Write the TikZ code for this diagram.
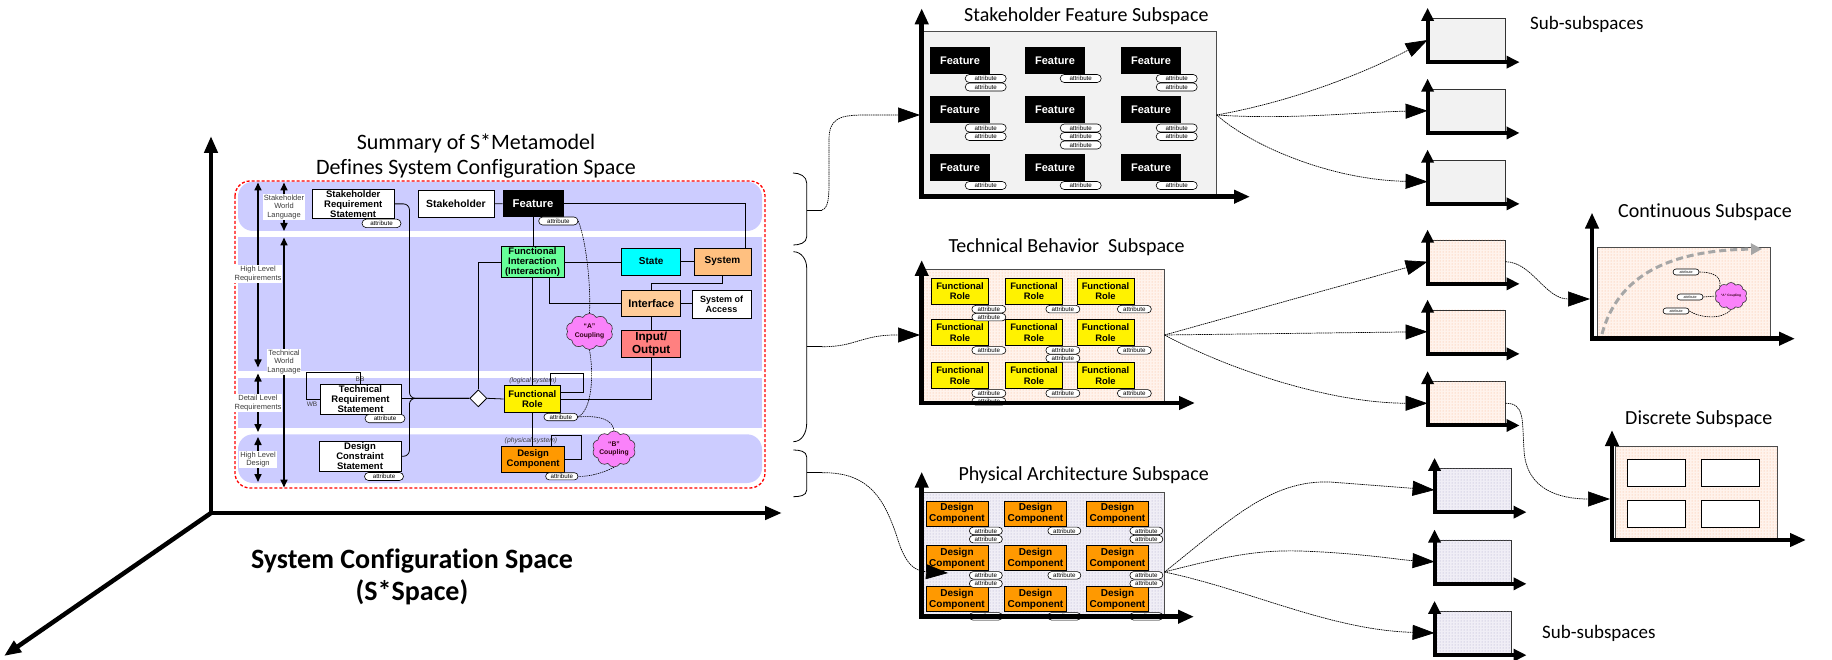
\documentclass[tikz,border=0pt]{standalone}
\usepackage{fontspec}
\setmainfont{Carlito}[Ligatures=NoCommon]
\newfontfamily\arialf{Liberation Sans}
\usetikzlibrary{arrows.meta,shapes.misc,shapes.symbols,shapes.geometric,patterns,calc}
\definecolor{bandc}{RGB}{204,204,255}
\definecolor{fgreen}{RGB}{102,255,153}
\definecolor{stcyan}{RGB}{0,255,255}
\definecolor{peachc}{RGB}{255,204,153}
\definecolor{sysc}{RGB}{255,192,128}
\definecolor{ioc}{RGB}{255,128,128}
\definecolor{dcc}{RGB}{255,153,0}
\definecolor{cloudc}{RGB}{250,130,250}
\definecolor{lgray}{RGB}{242,242,242}
\definecolor{techf}{RGB}{255,243,236}
\definecolor{techd}{RGB}{248,180,140}
\definecolor{physf}{RGB}{240,238,246}
\definecolor{physd}{RGB}{170,165,200}
\definecolor{lblgray}{RGB}{60,60,60}
\begin{document}
\begin{tikzpicture}[x=1pt,y=-1pt,
  mline/.style={line width=0.8pt},
  mm/.style={draw, line width=0.8pt, align=center, inner sep=0pt, font=\arialf\bfseries\fontsize{9.5}{10}\selectfont},
  pill/.style={draw, line width=0.6pt, rounded rectangle, fill=white, inner sep=0pt, minimum height=8pt, font=\arialf\fontsize{6.2}{6.5}\selectfont},
  cpl/.style={line width=0.6pt, dash pattern=on 1.5pt off 0.8pt},
  lvlarr/.style={line width=1.6pt, {Triangle[length=8pt,width=7pt]}-{Triangle[length=8pt,width=7pt]}},
  lvl/.style={fill=white, inner sep=0.8pt, align=center, text=lblgray, font=\arialf\fontsize{7.5}{8.7}\selectfont},
  conn/.style={line width=0.7pt, dash pattern=on 1.5pt off 0.7pt, -{Triangle[length=22pt,width=15pt]}},
  axb/.style={line width=4.5pt, {Triangle[length=16pt,width=13pt]}-{Triangle[length=16pt,width=13pt]}},
  subax/.style={line width=4pt, {Triangle[length=13pt,width=12pt]}-{Triangle[length=13pt,width=12pt]}},
  mainax/.style={line width=4.5pt, {Triangle[length=17pt,width=13pt]}-{Triangle[length=17pt,width=13pt]}},
  mainax1/.style={line width=4.5pt, -{Triangle[length=17pt,width=13pt]}},
  featbox/.style={fill=black, text=white, inner sep=0pt, minimum width=60pt, minimum height=27pt, font=\arialf\bfseries\fontsize{11}{12}\selectfont},
  frbox/.style={draw, line width=0.7pt, fill=yellow, inner sep=0pt, align=center, minimum width=57pt, minimum height=26pt, font=\arialf\bfseries\fontsize{9.4}{10.5}\selectfont},
  dcbox/.style={draw, line width=0.7pt, fill=dcc, inner sep=0pt, align=center, minimum width=62pt, minimum height=25pt, font=\arialf\bfseries\fontsize{10}{11}\selectfont},
  techpanel/.style={fill=techf, postaction={pattern=dots, pattern color=techd}},
  physpanel/.style={fill=physf, postaction={pattern=dots, pattern color=physd}},
  subbox/.style={draw=black!80, line width=0.8pt, inner sep=0pt, minimum width=77pt, minimum height=43.5pt},
  ttl/.style={font=\fontsize{20}{24}\selectfont, inner sep=0pt, anchor=base west},
  cloudn/.style={cloud, cloud puffs=10, cloud puff arc=120, cloud ignores aspect, draw=black!80, line width=0.6pt, fill=cloudc, inner sep=0pt, align=center, text=black!75!purple}
]
\useasboundingbox (0,0) rectangle (1832,660);

%% ---------------- main axes and titles
\draw[mainax] (211,136) -- (211,513) -- (782,513);
\draw[mainax1] (211,513) -- (4,656);
\node[font=\fontsize{22}{26}\selectfont, inner sep=0pt, anchor=base] (tsum) at (476,150) {Summary of S*Metamodel};
\node[font=\fontsize{22}{26}\selectfont, inner sep=0pt, anchor=base] (tdef) at (476,175) {Defines System Configuration Space};
\node[font=\bfseries\fontsize{28}{32}\selectfont, inner sep=0pt, anchor=base] (tscs) at (412,568) {System Configuration Space};
\node[font=\bfseries\fontsize{28}{32}\selectfont, inner sep=0pt, anchor=base] (tss) at (412,600) {(S*Space)};

%% ---------------- metamodel bands
\fill[bandc, rounded corners=15pt] (238,181.7) rectangle (762,231);
\fill[bandc] (238,237) rectangle (762,370.7);
\fill[bandc] (238,378) rectangle (762,428.3);
\fill[bandc, rounded corners=15pt] (238,434.3) rectangle (762,483);
\draw[red, line width=1.3pt, dash pattern=on 3pt off 2pt, rounded corners=15pt] (235,181) rectangle (765,488);

%% level arrows and labels
\draw[lvlarr] (258,182.5) -- (258,367.5);
\draw[lvlarr] (258,373.5) -- (258,432);
\draw[lvlarr] (258,437) -- (258,482);
\draw[lvlarr] (284,182.5) -- (284,231);
\draw[lvlarr] (284,237.5) -- (284,487.5);
\node[lvl] (lv1) at (258,274) {High Level\\Requirements};
\node[lvl] (lv2) at (258,403) {Detail Level\\Requirements};
\node[lvl] (lv3) at (258,459.5) {High Level\\Design};
\node[lvl] (lv4) at (284,207) {Stakeholder\\World\\Language};
\node[lvl] (lv5) at (284,362) {Technical\\World\\Language};

%% metamodel nodes
\node[mm, fill=white, minimum width=81.7pt, minimum height=29.7pt] (srs) at (353.2,203.9) {Stakeholder\\Requirement\\Statement};
\node[mm, fill=white, minimum width=76pt, minimum height=26.3pt, font=\arialf\bfseries\fontsize{10.4}{11}\selectfont] (stk) at (456,203.9) {Stakeholder};
\node[mm, fill=black, text=white, minimum width=60pt, minimum height=25.6pt, font=\arialf\bfseries\fontsize{11.3}{12}\selectfont] (feat) at (533,203.5) {Feature};
\node[mm, fill=fgreen, minimum width=63pt, minimum height=30.6pt] (fi) at (532.5,262) {Functional\\Interaction\\(Interaction)};
\node[mm, fill=stcyan, minimum width=59pt, minimum height=27pt, font=\arialf\bfseries\fontsize{10}{11}\selectfont] (state) at (651.2,261.5) {State};
\node[mm, fill=sysc, minimum width=57pt, minimum height=27pt, font=\arialf\bfseries\fontsize{10}{11}\selectfont] (sys) at (722.5,261.5) {System};
\node[mm, fill=peachc, minimum width=59pt, minimum height=26.7pt, font=\arialf\bfseries\fontsize{11}{12}\selectfont] (intf) at (651.2,303.3) {Interface};
\node[mm, fill=white, minimum width=59pt, minimum height=28pt, font=\arialf\bfseries\fontsize{9}{10}\selectfont] (soa) at (721.5,304) {System of\\Access};
\node[mm, fill=ioc, minimum width=59pt, minimum height=26.6pt, font=\arialf\bfseries\fontsize{11.7}{13}\selectfont] (io) at (651.2,344) {Input/\\Output};
\node[mm, fill=yellow, minimum width=56.7pt, minimum height=26.6pt] (fr) at (532.3,399) {Functional\\Role};
\node[mm, fill=dcc, minimum width=63.4pt, minimum height=25.2pt] (dc) at (533.1,459.4) {Design\\Component};
\node[mm, fill=white, minimum width=81pt, minimum height=30pt] (trs) at (360.5,399.3) {Technical\\Requirement\\Statement};
\node[mm, fill=white, minimum width=82pt, minimum height=29.5pt] (dcs) at (360,456.3) {Design\\Constraint\\Statement};
\node[diamond, draw, line width=0.8pt, fill=white, minimum width=17pt, minimum height=17pt, inner sep=0pt] (diam) at (478.3,398.3) {};
\node[pill, minimum width=39pt, minimum height=8.5pt] (srsP) at (381.5,223.4) {attribute};
\node[pill, minimum width=39.3pt] (featP) at (558.3,221) {attribute};
\node[pill, minimum width=40pt, minimum height=8.4pt] (trsP) at (385,418.5) {attribute};
\node[pill, minimum width=33.7pt, minimum height=7.4pt] (frP) at (560.8,417) {attribute};
\node[pill, minimum width=32.4pt, minimum height=7.2pt] (dcP) at (561.8,476.3) {attribute};
\node[pill, minimum width=39pt] (dcsP) at (384,476.5) {attribute};
\node[cloudn, minimum width=47pt, minimum height=36pt, font=\arialf\bfseries\fontsize{6.8}{8.5}\selectfont] (cA) at (589.5,331.5) {“A”\\Coupling};
\node[cloudn, minimum width=43pt, minimum height=36pt, font=\arialf\bfseries\fontsize{6.8}{8.5}\selectfont] (cB) at (614,449) {“B”\\Coupling};
\node[inner sep=0pt, text=lblgray, font=\arialf\itshape\fontsize{6.8}{7}\selectfont] (lsys) at (533,381) {(logical system)};
\node[inner sep=0pt, text=lblgray, font=\arialf\itshape\fontsize{6.8}{7}\selectfont] (psys) at (531,441) {(physical system)};
\node[inner sep=0pt, text=lblgray, font=\arialf\fontsize{6.5}{7}\selectfont] (bb) at (360,379.5) {BB};
\node[inner sep=0pt, text=lblgray, font=\arialf\fontsize{6.5}{7}\selectfont] (wb) at (312,404.5) {WB};

%% metamodel connectors
\draw[mline] (stk) -- (feat);
\draw[mline] (feat.east) -| ($(sys.north)+(22.5,0)$);
\draw[mline] (feat.south) -- (feat.south |- fi.north);
\draw[mline] (fi.south) -- (fi.south |- fr.north);
\draw[mline] (fr.south) -- (fr.south |- dc.north);
\draw[mline] (fi.east) -- (fi.east -| state.west);
\draw[mline] (state.east) -- (state.east -| sys.west);
\draw[mline] (fi.west) -| (diam.north);
\draw[mline] ($(fi.south east)+(-15,0)$) |- (intf.west);
\draw[mline] (intf.east) -- (intf.east -| soa.west);
\draw[mline] (intf.north) |- ($(sys.south)+(0,7.7)$) -- (sys.south);
\draw[mline] (intf.south) -- (io.north);
\draw[mline] (io.south) |- (fr.east);
\draw[mline] (diam.east) -- (fr.west);
\draw[mline] (diam.west -| trs.east) -- (diam.west);
\draw[mline, rounded corners=6pt] (srs.east) -- ++(15,0) |- (diam.west);
\draw[mline, rounded corners=6pt] (dcs.east) -- ++(8,0) |- (diam.west);
\draw[mline] (trs.north) -- ++(0,-11.6) -| ([xshift=-13.3pt]trs.west) -- (trs.west);
\draw[mline] ($(fr.north east)+(-10.7,0)$) -- ++(0,-11.7) -| ($(fr.north east)+(22,6.6)$) -- ($(fr.north east)+(0,6.6)$);
\draw[mline] ($(dc.north east)+(-13.4,0)$) -- ++(0,-11.4) -| ($(dc.north east)+(16.5,12.7)$) -- ($(dc.north east)+(0,12.7)$);
\draw[cpl] (featP.east) .. controls (586,240) and (591,285) .. (cA.north);
\draw[cpl] (cA.south) .. controls (594,375) and (592,410) .. (frP.east);
\draw[cpl] (frP.east) .. controls (600,415) and (613,420) .. (cB.north);
\draw[cpl] (cB.south) .. controls (605,472) and (590,477) .. (dcP.east);

%% ---------------- braces
\draw[line width=0.8pt] (793,173) to[out=0,in=90] (806.7,183) -- (806.7,236.7) to[out=-90,in=0] (793.3,245);
\draw[line width=0.8pt] (806.7,210) -- (822,210);
\draw[line width=0.8pt] (793.3,251.7) to[out=0,in=90] (806.7,268) -- (806.7,423.3) to[out=-90,in=0] (793.3,441.7);
\draw[line width=0.8pt] (806.7,346.7) -- (822,346.7);
\draw[line width=0.8pt] (793.3,450) to[out=0,in=90] (806.7,457) -- (806.7,490) to[out=-90,in=0] (793.3,496.7);
\draw[line width=0.8pt] (806.7,472.7) -- (822,472.7);
\coordinate (b1) at (822,210);
\coordinate (b2) at (822,346.7);
\coordinate (b3) at (822,472.7);

%% ---------------- stakeholder feature subspace
\draw[fill=lgray, draw=black!70, line width=0.8pt] (921.7,31.7) rectangle (1216.7,196.7);
\foreach \rr/\yy in {1/60.5,2/110,3/167.5}{
  \foreach \cc/\xx in {1/960,2/1055,3/1151}{
    \node[featbox] (sf\rr\cc) at (\xx,\yy) {Feature};
  }
}
\foreach \rr/\cc/\n in {1/1/2,1/2/1,1/3/2,2/1/2,2/2/3,2/3/2,3/1/1,3/2/1,3/3/1}{
  \foreach \k in {1,...,\n}{
    \node[pill, minimum width=41pt] (sfp\rr\cc\k) at ($(sf\rr\cc.south east)+(-4.5,4.3+8.5*\k-8.5)$) {attribute};
  }
}
\draw[axb] (921.7,8.3) -- (921.7,196.7) -- (1250,196.7);
\node[ttl] (t1) at (964,21.7) {Stakeholder Feature Subspace};

%% ---------------- technical behavior subspace
\path[techpanel] (921.7,269) rectangle (1164.5,403);
\draw[draw=black!70, line width=0.8pt] (921.7,269) rectangle (1164.5,403);
\foreach \rr/\yy in {1/291.3,2/332.5,3/375.5}{
  \foreach \cc/\xx in {1/960,2/1034,3/1105.5}{
    \node[frbox] (tf\rr\cc) at (\xx,\yy) {Functional\\Role};
  }
}
\foreach \rr/\cc/\n in {1/1/2,1/2/1,1/3/1,2/1/1,2/2/2,2/3/1,3/1/2,3/2/1,3/3/1}{
  \foreach \k in {1,...,\n}{
    \node[pill, minimum width=34pt, minimum height=7.5pt] (tfp\rr\cc\k) at ($(tf\rr\cc.south east)+(0,4.5+8*\k-8)$) {attribute};
  }
}
\draw[axb] (921.7,260) -- (921.7,403) -- (1195,403);
\node[ttl] (t2) at (948.3,253) {Technical Behavior\ \ Subspace};

%% ---------------- physical architecture subspace
\path[physpanel] (921.7,492.7) rectangle (1164.5,616.7);
\draw[draw=black!70, line width=0.8pt] (921.7,492.7) rectangle (1164.5,616.7);
\foreach \rr/\yy in {1/513.5,2/558,3/599}{
  \foreach \cc/\xx in {1/957,2/1035.5,3/1117.5}{
    \node[dcbox] (pd\rr\cc) at (\xx,\yy) {Design\\Component};
  }
}
\foreach \rr/\cc/\n in {1/1/2,1/2/1,1/3/2,2/1/2,2/2/1,2/3/2,3/1/1,3/2/1,3/3/1}{
  \foreach \k in {1,...,\n}{
    \node[pill, minimum width=33pt, minimum height=7.5pt] (pdp\rr\cc\k) at ($(pd\rr\cc.south east)+(-2.5,4.5+8.3*\k-8.3)$) {attribute};
  }
}
\draw[axb] (921.7,471.7) -- (921.7,616.7) -- (1194,616.7);
\node[ttl] (t3) at (958.3,480) {Physical Architecture Subspace};

%% ---------------- brace connectors
\coordinate (sft) at (920,115);
\coordinate (tbt) at (920,335);
\coordinate (pat) at (948,573);
\draw[conn] (b1) .. controls (829,208) and (829,195) .. (829,180) -- (829,140) .. controls (829,118) and (840,115) .. (865,115) -- (sft);
\draw[conn] (b2) .. controls (855,347) and (862,335) .. (895,335) -- (tbt);
\draw[conn] (b3) .. controls (870,472) and (885,500) .. (898,540) .. controls (906,565) and (915,571) .. (pat);

%% ---------------- sub-subspaces
\node[subbox, fill=lgray] (ss1) at (1466.5,40) {};
\node[subbox, fill=lgray] (ss2) at (1466.5,110.8) {};
\node[subbox, fill=lgray] (ss3) at (1466.5,181.7) {};
\node[subbox, techpanel] (tb1) at (1466.5,261.7) {};
\node[subbox, techpanel] (tb2) at (1466.5,331.7) {};
\node[subbox, techpanel] (tb3) at (1466.5,403.3) {};
\node[subbox, physpanel, minimum width=76.7pt] (pb1) at (1473.3,490) {};
\node[subbox, physpanel, minimum width=76.7pt] (pb2) at (1473.3,561.7) {};
\node[subbox, physpanel, minimum width=76.7pt] (pb3) at (1473.3,633) {};
\foreach \b in {ss1,ss2,ss3,tb1,tb2,tb3,pb1,pb2,pb3}{
  \draw[subax] ($(\b.north west)+(0,-10)$) -- (\b.south west) -- ++(92,0);
}
\node[ttl, font=\fontsize{19}{22}\selectfont] (t4) at (1530,30) {Sub-subspaces};
\node[ttl, font=\fontsize{19}{22}\selectfont] (t5) at (1542,638) {Sub-subspaces};

\coordinate (sfo) at (1216.7,115);
\coordinate (tbo) at (1164.5,335);
\coordinate (pao) at (1164.5,572);
\draw[conn] (sfo) .. controls (1300,100) and (1370,70) .. (ss1.west);
\draw[conn] (sfo) .. controls (1290,120) and (1360,112) .. (ss2.west);
\draw[conn] (sfo) .. controls (1250,145) and (1330,180) .. (ss3.west);
\draw[conn] (tbo) -- (tb1.west);
\draw[conn] (tbo) -- (tb2.west);
\draw[conn] (tbo) .. controls (1230,370) and (1330,403) .. (tb3.west);
\draw[conn] (pao) .. controls (1230,520) and (1270,480) .. (1330,482) -- (pb1.west);
\draw[conn] (pao) .. controls (1230,555) and (1260,550) .. (1300,551) .. controls (1360,553) and (1400,560) .. (pb2.west);
\draw[conn] (pao) .. controls (1250,590) and (1330,630) .. (pb3.west);

%% ---------------- continuous subspace
\path[techpanel] (1597,247.6) rectangle (1770,338.7);
\draw[draw=black!70, line width=0.8pt] (1597,247.6) rectangle (1770,338.7);
\draw[gray!70, line width=3pt, dash pattern=on 7pt off 4pt, -{Triangle[length=11pt,width=11pt]}] (1602,334) .. controls (1618,275) and (1670,250) .. (1762,249);
\node[pill, minimum width=26pt, minimum height=6pt, font=\arialf\fontsize{3.6}{4}\selectfont] (cp1) at (1686,272) {attribute};
\node[pill, minimum width=26pt, minimum height=6pt, font=\arialf\fontsize{3.6}{4}\selectfont] (cp2) at (1690,297) {attribute};
\node[pill, minimum width=26pt, minimum height=6pt, font=\arialf\fontsize{3.6}{4}\selectfont] (cp3) at (1676,311) {attribute};
\node[cloudn, minimum width=32pt, minimum height=27pt, font=\arialf\bfseries\fontsize{3.2}{4}\selectfont] (cc) at (1731,296) {“A” Coupling};
\draw[cpl] (cp1.east) .. controls (1712,272) and (1722,276) .. (cc.north west);
\draw[cpl] (cp2.east) -- (cc.west);
\draw[cpl] (cp3.east) .. controls (1700,318) and (1722,320) .. (cc.south);
\draw[axb] (1592,212.6) -- (1592,338.7) -- (1795,338.7);
\node[ttl] (t6) at (1618,218) {Continuous Subspace};
\coordinate (cont) at (1590,299);
\draw[conn] (tb1.east) .. controls (1532,262) and (1545,299) .. (cont);

%% ---------------- discrete subspace
\path[techpanel] (1615.5,446) rectangle (1777.7,540);
\draw[draw=black!70, line width=0.8pt] (1615.5,446) rectangle (1777.7,540);
\node[draw, line width=0.8pt, fill=white, minimum width=58pt, minimum height=27pt, inner sep=0pt] (dr1) at (1656,472.5) {};
\node[draw, line width=0.8pt, fill=white, minimum width=58pt, minimum height=27pt, inner sep=0pt] (dr2) at (1730.5,472.5) {};
\node[draw, line width=0.8pt, fill=white, minimum width=58pt, minimum height=27pt, inner sep=0pt] (dr3) at (1656,513.5) {};
\node[draw, line width=0.8pt, fill=white, minimum width=58pt, minimum height=27pt, inner sep=0pt] (dr4) at (1730.5,513.5) {};
\draw[axb] (1612,430) -- (1612,540) -- (1806,540);
\node[ttl] (t7) at (1625,424) {Discrete Subspace};
\coordinate (disc) at (1610,499);
\draw[conn] (tb3.east) .. controls (1525,403) and (1522,420) .. (1524,450) .. controls (1526,490) and (1560,499) .. (disc);
\end{tikzpicture}
\end{document}
